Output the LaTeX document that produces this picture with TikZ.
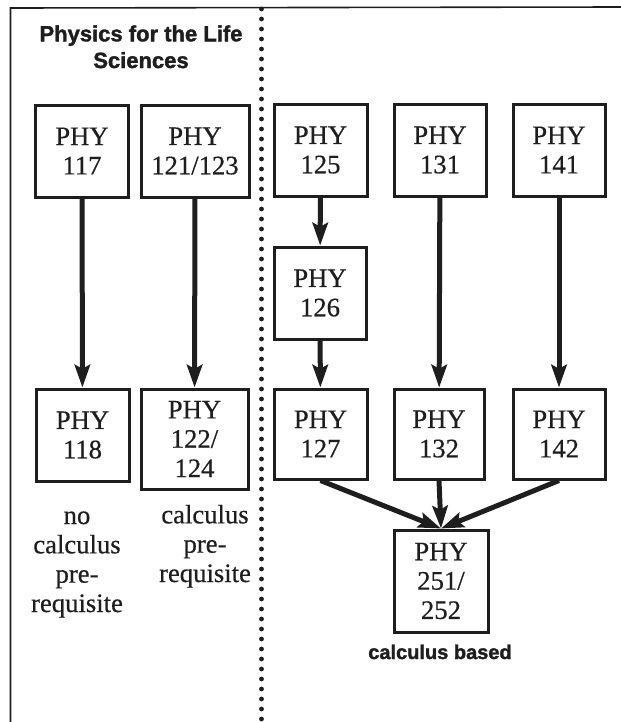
\documentclass[tikz,border=0pt]{standalone}
\usepackage{fontspec}
\setmainfont{Liberation Serif}[FakeBold=0.5]
\newfontfamily\titlefont{Liberation Sans}[FakeBold=1.6]
\usetikzlibrary{arrows.meta}
\definecolor{ink}{HTML}{1E1E1E}
\begin{document}
\begin{tikzpicture}[x=0.75pt,y=-0.75pt,
  box/.style={draw=ink,line width=2.25pt,align=center,inner sep=0pt,
    font=\fontsize{20}{22}\selectfont,text=ink},
  arr/.style={draw=ink,line width=3.75pt,-{Stealth[length=17pt,width=11.5pt,inset=3pt]}},
  lbl/.style={align=center,font=\fontsize{20}{22}\selectfont,text=ink,anchor=base},
  ttl/.style={align=center,font=\titlefont\bfseries\fontsize{16.5}{20}\selectfont,text=ink,anchor=base}]
\useasboundingbox (0,0) rectangle (621,722);
% frame
\draw[ink,line width=1.2pt] (10.5,722) -- (10.5,8) -- (621,7);
% dotted divider
\draw[ink,line width=3.6pt,line cap=round,dash pattern=on 0pt off 7.5pt] (261.5,9) -- (261.5,722);
% title (base anchor = last line)
\node[ttl] (title) at (141,68) {Physics for the Life\\Sciences};
% top row
\node[box,minimum width=69.75pt,minimum height=69pt] (n117) at (82,151) {PHY\\117};
\node[box,minimum width=81pt,minimum height=69pt] (n121) at (195,151) {PHY\\121/123};
\node[box,minimum width=69.75pt,minimum height=69pt] (n125) at (320.5,150) {PHY\\125};
\node[box,minimum width=69pt,minimum height=69pt] (n131) at (440,150) {PHY\\131};
\node[box,minimum width=69pt,minimum height=69pt] (n141) at (559,150) {PHY\\141};
% middle
\node[box,minimum width=69pt,minimum height=69pt] (n126) at (320,293) {PHY\\126};
% lower row
\node[box,minimum width=69.75pt,minimum height=69pt] (n118) at (82.5,435) {PHY\\118};
\node[box,minimum width=80.25pt,minimum height=75pt] (n122) at (194.5,439) {PHY\\122/\\124};
\node[box,minimum width=69.75pt,minimum height=67.5pt] (n127) at (320.5,434) {PHY\\127};
\node[box,minimum width=67.5pt,minimum height=67.5pt] (n132) at (439,434) {PHY\\132};
\node[box,minimum width=69pt,minimum height=67.5pt] (n142) at (559,434) {PHY\\142};
% bottom
\node[box,minimum width=70.5pt,minimum height=76.5pt] (n251) at (441,581) {PHY\\251/\\252};
% labels (base anchor = last line)
\node[lbl] (nocalc) at (77,612) {no\\calculus\\pre-\\requisite};
\node[lbl] (calc) at (205,582) {calculus\\pre-\\requisite};
\node[ttl,font=\titlefont\bfseries\fontsize{15}{18}\selectfont] (based) at (440,659) {calculus based};
% arrows
\draw[arr] (n117) -- (n118);
\draw[arr] (n121) -- (n122);
\draw[arr] (n125) -- (n126);
\draw[arr] (n126) -- (n127);
\draw[arr] (n131) -- (n132);
\draw[arr] (n141) -- (n142);
\draw[arr] (n127.south) -- (n251.north);
\draw[arr] (n132.south) -- (n251.north);
\draw[arr] (n142.south) -- (n251.north);
\end{tikzpicture}
\end{document}
